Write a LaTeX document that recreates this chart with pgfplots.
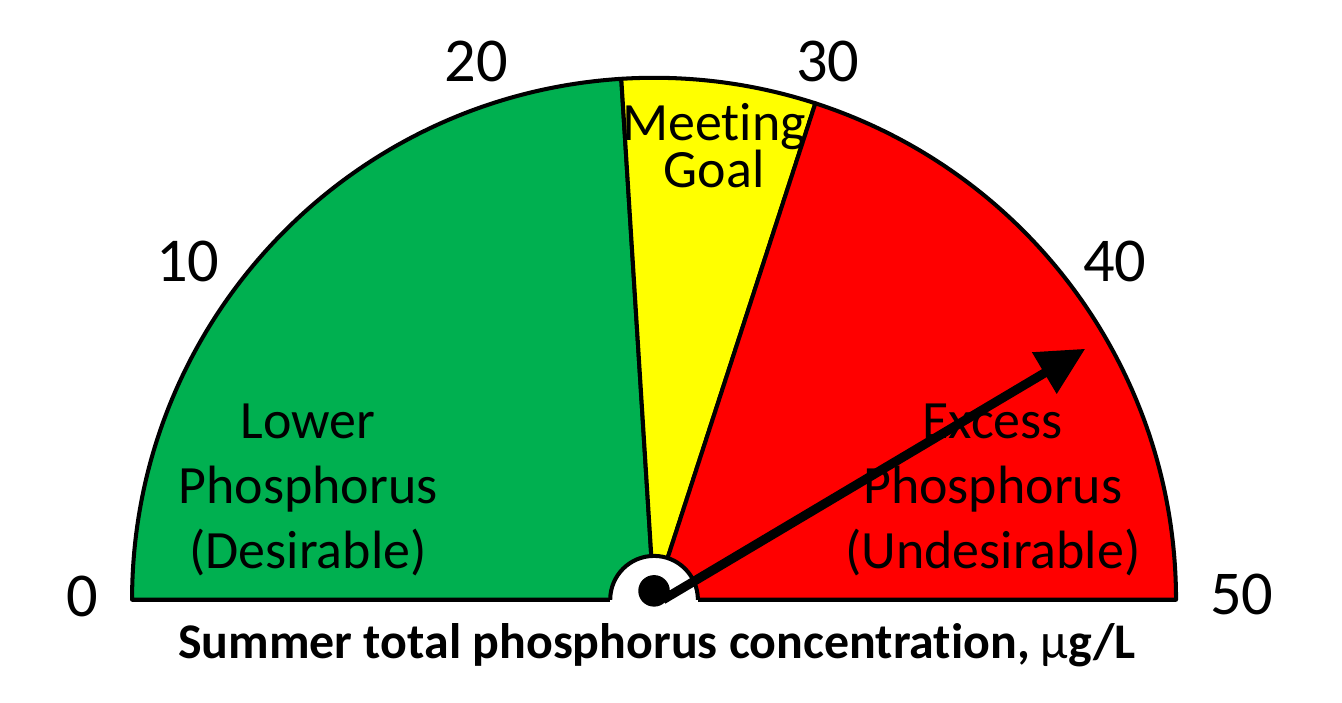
\documentclass[border=0pt]{standalone}
\usepackage{pgfplots}
\pgfplotsset{compat=1.18}
\usepackage{fontspec}
\setmainfont{Carlito}[Ligatures=NoCommon]
\usetikzlibrary{arrows.meta}
\definecolor{bandgreen}{HTML}{00B050}
\definecolor{bandyellow}{HTML}{FFFF00}
\definecolor{bandred}{HTML}{FF0000}

% gauge scale: value v (ug/L) sits at angle 180 - 3.6 v degrees
% bands: 0-24 lower, 24-30 meeting goal, 30-50 excess
\begin{document}
\begin{tikzpicture}
\begin{axis}[
  x=5cm, y=5cm,
  xmin=-1.253, xmax=1.318, ymin=-0.197, ymax=1.149,
  hide axis, clip=false, enlargelimits=false,
]
\coordinate (bl) at (rel axis cs:0,0);
\coordinate (tr) at (rel axis cs:1,1);

% bands
\filldraw[fill=bandgreen, draw=black, line width=1.1pt, line join=round]
  (axis cs:0,0) -- ++(180:5cm) arc[start angle=180, end angle=93.6, radius=5cm] -- cycle;
\filldraw[fill=bandyellow, draw=black, line width=1.1pt, line join=round]
  (axis cs:0,0) -- ++(93.6:5cm) arc[start angle=93.6, end angle=72, radius=5cm] -- cycle;
\filldraw[fill=bandred, draw=black, line width=1.1pt, line join=round]
  (axis cs:0,0) -- ++(72:5cm) arc[start angle=72, end angle=0, radius=5cm] -- cycle;

% hub
\fill[white] (axis cs:-0.084,-0.012) rectangle (axis cs:0.084,0.002);
\filldraw[fill=white, draw=black, line width=1.1pt]
  (axis cs:0.084,0) arc[start angle=0, end angle=180, radius=0.42cm];

% needle (about 41.6 ug/L)
\addplot[data cs=polar, black, line width=2.5pt,
  -{Triangle[length=13pt, width=12.5pt]}]
  coordinates {(0,0.017) (30.2,0.956)};
\addplot[only marks, mark=*, mark size=4.1pt, black]
  coordinates {(0,0.017)};

% scale numbers
\begin{scope}[font=\fontsize{17}{20}\selectfont]
\node at (axis cs:-1.096,0.006) {0};
\node at (axis cs:-0.893,0.648) {10};
\node at (axis cs:-0.341,1.031) {20};
\node at (axis cs:0.333,1.031) {30};
\node at (axis cs:0.883,0.648) {40};
\node at (axis cs:1.126,0.010) {50};
\end{scope}

% band captions
\node[align=center, font=\fontsize{14.7}{17.7}\selectfont]
  at (axis cs:-0.663,0.211) {Lower\\Phosphorus\\(Desirable)};
\node[align=center, font=\fontsize{14.7}{13}\selectfont]
  at (axis cs:0.115,0.870) {Meeting\\Goal};
\node[align=center, font=\fontsize{14.7}{17.7}\selectfont]
  at (axis cs:0.649,0.211) {Excess\\Phosphorus\\(Undesirable)};

% title
\node[font=\bfseries\fontsize{13.6}{16}\selectfont]
  at (axis cs:0.006,-0.088) {Summer total phosphorus concentration, {\mdseries µ}g/L};
\end{axis}
\pgfresetboundingbox
\path[use as bounding box] (bl) rectangle (tr);
\end{tikzpicture}
\end{document}
